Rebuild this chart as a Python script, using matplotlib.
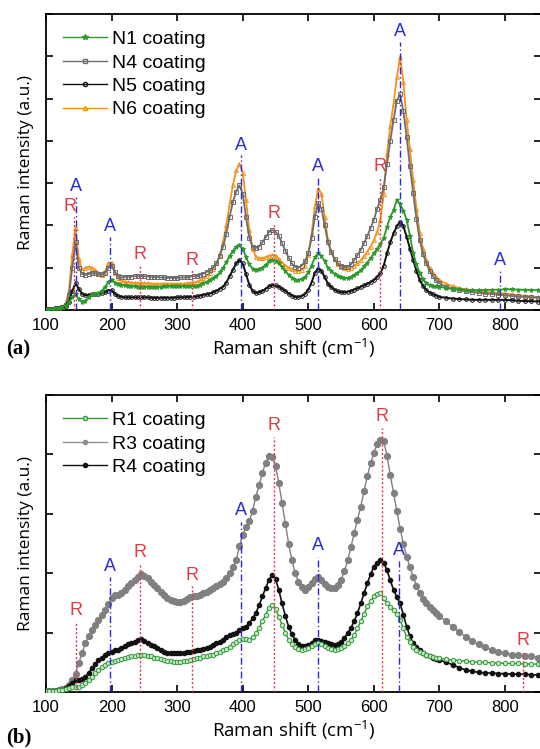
import matplotlib
matplotlib.use("Agg")
import matplotlib.pyplot as plt
from matplotlib.lines import Line2D

# ---------------- shared x grid (Raman shift, cm^-1) ----------------
xgrid = list(range(100, 705, 5)) + list(range(710, 860, 10)) + [855]

# ---------------- data (panel a) ----------------
n1 = [.02, .02, .03, .04, .05, .07, .10, .18, .30, .38, .25, .20, .22, .30, .37, .39, .40, .45, .55, .66,
      .72, .65, .61, .59, .58, .57, .56, .56, .55, .55, .55, .55, .55, .55, .55, .55, .56, .56, .56, .56,
      .56, .56, .56, .56, .57, .57, .57, .60, .63, .66, .70, .75, .80, .89, 1.00, 1.13, 1.28, 1.40, 1.50, 1.54,
      1.45, 1.25, 1.08, .98, .94, .96, 1.00, 1.07, 1.15, 1.18, 1.16, 1.10, 1.02, .92, .83, .76, .72, .71, .73, .78,
      .90, 1.05, 1.25, 1.34, 1.28, 1.15, 1.00, .92, .85, .81, .78, .76, .75, .78, .82, .88, .94, 1.03, 1.12, 1.23,
      1.34, 1.45, 1.57, 1.70, 1.97, 2.20, 2.36, 2.60, 2.50, 2.35, 2.13, 1.75, 1.34, 1.08, .87, .73, .63, .59, .57, .56,
      .55, .52, .50, .49, .48, .47, .47, .47, .48, .48, .49, .49, .48, .48, .47, .47, .47]
n4 = [.02, .02, .03, .04, .05, .07, .12, .35, 1.00, 1.60, 1.00, .85, .83, .85, .87, .87, .85, .84, .88, 1.00,
      1.05, .90, .80, .77, .78, .79, .79, .80, .80, .80, .80, .79, .79, .78, .78, .77, .77, .76, .76, .76,
      .76, .77, .77, .78, .79, .80, .80, .83, .86, .90, .94, 1.01, 1.10, 1.28, 1.50, 1.80, 2.20, 2.55, 2.80, 2.95,
      2.75, 2.20, 1.70, 1.50, 1.47, 1.50, 1.60, 1.72, 1.85, 1.89, 1.85, 1.75, 1.58, 1.40, 1.24, 1.10, 1.02, 1.00, 1.05, 1.15,
      1.35, 1.70, 2.20, 2.52, 2.40, 2.00, 1.60, 1.38, 1.20, 1.10, 1.05, 1.02, 1.02, 1.08, 1.18, 1.30, 1.42, 1.58, 1.75, 1.94,
      2.13, 2.40, 2.60, 2.90, 3.46, 4.00, 4.49, 4.95, 5.10, 4.70, 4.09, 3.40, 2.76, 2.15, 1.65, 1.32, 1.10, .93, .80, .70,
      .63, .55, .50, .47, .44, .42, .41, .39, .38, .36, .35, .33, .32, .31, .30, .29, .28]
n5 = [.02, .02, .03, .04, .05, .07, .10, .20, .45, .63, .50, .38, .35, .36, .37, .38, .39, .40, .42, .46,
      .47, .38, .33, .31, .30, .30, .30, .30, .30, .30, .30, .30, .29, .29, .29, .29, .29, .29, .29, .29,
      .30, .30, .30, .31, .31, .31, .32, .34, .36, .37, .39, .42, .45, .50, .55, .65, .80, .95, 1.10, 1.18,
      1.10, .85, .60, .45, .40, .42, .45, .50, .56, .59, .58, .55, .50, .45, .39, .34, .31, .31, .33, .38,
      .48, .65, .88, .98, .92, .78, .62, .54, .48, .44, .42, .42, .43, .45, .48, .51, .55, .58, .62, .66,
      .71, .78, .87, 1.05, 1.34, 1.60, 1.81, 1.98, 2.09, 1.98, 1.73, 1.45, 1.18, .92, .71, .57, .47, .41, .37, .34,
      .31, .29, .27, .26, .25, .24, .24, .24, .24, .24, .24, .23, .22, .21, .21, .20, .20]
n6 = [.02, .02, .03, .04, .05, .08, .15, .45, 1.30, 1.95, 1.20, .95, 1.00, 1.02, 1.00, .95, .88, .83, .90, 1.10,
      1.12, .88, .75, .70, .67, .66, .65, .64, .64, .63, .63, .63, .62, .62, .62, .62, .62, .62, .62, .62,
      .62, .62, .62, .63, .64, .65, .66, .70, .75, .81, .88, .98, 1.10, 1.30, 1.60, 2.00, 2.50, 2.95, 3.30, 3.46,
      3.25, 2.60, 1.90, 1.45, 1.26, 1.22, 1.22, 1.25, 1.28, 1.30, 1.28, 1.20, 1.12, 1.05, 1.00, .96, .93, .92, .95, 1.05,
      1.30, 1.80, 2.45, 2.87, 2.75, 2.20, 1.65, 1.38, 1.20, 1.08, 1.02, .99, .98, 1.00, 1.05, 1.10, 1.18, 1.27, 1.38, 1.50,
      1.65, 1.85, 2.13, 2.75, 3.70, 4.35, 4.88, 5.50, 5.98, 5.40, 4.49, 3.80, 3.07, 2.40, 1.81, 1.45, 1.18, 1.00, .88, .78,
      .71, .62, .56, .52, .49, .47, .45, .43, .42, .40, .39, .37, .35, .34, .32, .31, .31]
labels_a = ["N1 coating", "N4 coating", "N5 coating", "N6 coating"]

# annotation lines (panel a): position and height of the line top
a_lines_a = [145, 198, 397, 515, 640, 793]
a_tops_a = [2.68, 1.73, 3.66, 3.15, 6.34, 0.94]
r_lines_a = [142, 243, 323, 448, 609]
r_tops_a = [2.20, 1.06, 0.94, 2.05, 3.15]

# ---------------- data (panel b) ----------------
r1 = [.01, .01, .02, .02, .03, .04, .05, .06, .08, .09, .09, .11, .15, .20, .26, .32, .37, .42, .46, .49,
      .51, .53, .54, .56, .57, .59, .60, .61, .62, .62, .62, .61, .60, .58, .57, .55, .54, .53, .52, .51,
      .51, .51, .52, .53, .54, .55, .57, .58, .60, .61, .62, .63, .65, .67, .70, .73, .76, .80, .84, .88,
      .90, .89, .88, .92, .99, 1.08, 1.19, 1.30, 1.41, 1.47, 1.40, 1.27, 1.13, 1.00, .88, .81, .76, .73, .71, .72,
      .74, .77, .80, .82, .80, .77, .74, .72, .71, .72, .74, .78, .82, .88, .96, 1.07, 1.19, 1.31, 1.44, 1.53,
      1.61, 1.65, 1.66, 1.58, 1.49, 1.43, 1.38, 1.32, 1.21, 1.07, .93, .84, .76, .71, .68, .65, .62, .60, .59, .58,
      .57, .55, .54, .53, .52, .51, .50, .50, .49, .49, .48, .48, .48, .47, .47, .47, .47]
r3 = [.01, .01, .02, .02, .03, .05, .07, .12, .20, .31, .48, .66, .82, .94, 1.04, 1.13, 1.21, 1.30, 1.38, 1.48,
      1.58, 1.63, 1.64, 1.66, 1.72, 1.78, 1.83, 1.89, 1.94, 1.98, 1.96, 1.92, 1.86, 1.80, 1.75, 1.69, 1.63, 1.58, 1.55, 1.53,
      1.52, 1.51, 1.54, 1.57, 1.60, 1.61, 1.62, 1.64, 1.66, 1.69, 1.72, 1.75, 1.78, 1.82, 1.86, 1.92, 2.00, 2.10, 2.22, 2.45,
      2.65, 2.78, 2.88, 3.05, 3.29, 3.48, 3.69, 3.86, 3.98, 3.96, 3.80, 3.52, 3.18, 2.83, 2.50, 2.22, 2.00, 1.86, 1.77, 1.72,
      1.76, 1.84, 1.90, 1.94, 1.88, 1.81, 1.77, 1.75, 1.75, 1.80, 1.89, 2.03, 2.22, 2.44, 2.67, 2.90, 3.12, 3.38, 3.63, 3.85,
      4.02, 4.17, 4.25, 4.22, 3.98, 3.65, 3.35, 3.05, 2.75, 2.50, 2.28, 2.10, 1.94, 1.79, 1.66, 1.57, 1.49, 1.43, 1.38, 1.33,
      1.28, 1.19, 1.10, 1.01, .93, .86, .80, .75, .71, .68, .65, .63, .62, .61, .60, .58, .57]
r4 = [.01, .01, .02, .02, .03, .04, .06, .10, .15, .20, .20, .22, .26, .32, .40, .47, .54, .58, .62, .65,
      .68, .70, .71, .74, .78, .80, .82, .85, .88, .89, .86, .83, .79, .77, .74, .71, .68, .66, .65, .65,
      .65, .66, .66, .67, .68, .69, .70, .71, .72, .74, .76, .79, .82, .85, .88, .92, .96, .98, .99, 1.05,
      1.07, 1.10, 1.16, 1.24, 1.33, 1.46, 1.61, 1.75, 1.89, 1.97, 1.90, 1.72, 1.49, 1.28, 1.10, .97, .88, .81, .77, .77,
      .79, .83, .87, .88, .86, .84, .82, .80, .79, .81, .85, .91, .99, 1.08, 1.19, 1.33, 1.49, 1.66, 1.83, 1.98,
      2.11, 2.18, 2.22, 2.18, 2.05, 1.88, 1.72, 1.60, 1.49, 1.30, 1.10, .94, .82, .76, .71, .66, .62, .60, .58, .56,
      .54, .50, .46, .41, .37, .35, .33, .32, .32, .31, .31, .30, .30, .30, .29, .29, .29]
labels_b = ["R1 coating", "R3 coating", "R4 coating"]

a_lines_b = [198, 398, 515, 638]
a_tops_b = [1.93, 2.87, 2.28, 2.20]
r_lines_b = [146, 243, 322, 447, 612, 828]
r_tops_b = [1.19, 2.17, 1.78, 4.30, 4.45, 0.68]

# ---------------- styling ----------------
W, H = 540, 749
fig = plt.figure(figsize=(W / 100, H / 100), dpi=100)
fig.patch.set_facecolor("white")

TICKFONT = "Liberation Sans"
LABFONT = "Open Sans"
BLUE = "#2b2bd8"
RED = "#e03a45"


def frame(ax, ymax):
    ax.set_xlim(100, 855)
    ax.set_ylim(0, ymax)
    ax.set_xticks(range(100, 900, 100))
    ax.set_yticks(range(0, ymax + 1))
    ax.set_yticklabels([])
    ax.tick_params(direction="in", top=True, right=True, length=5, width=1.2,
                   labelsize=12, pad=6)
    for lab in ax.get_xticklabels():
        lab.set_fontfamily(TICKFONT)
    for sp in ax.spines.values():
        sp.set_linewidth(1.3)
    ax.set_xlabel("Raman shift (cm$^{\\mathregular{-1}}$)", fontfamily=LABFONT, fontsize=13.5, labelpad=2)
    ax.set_ylabel("Raman intensity (a.u.)", fontfamily=LABFONT, fontsize=12.5, labelpad=3)


def annotate(ax, xs, tops, color, ls, letter, shift=None):
    for i, (x, t) in enumerate(zip(xs, tops)):
        ax.plot([x, x], [0, t], color=color, ls=ls, lw=1.0, zorder=6)
        tx = x + (shift.get(i, 0) if shift else 0)
        ax.text(tx, t + 0.04, letter, color=color, ha="center", va="bottom",
                fontsize=13, fontfamily=TICKFONT, zorder=7)


def legend(ax, handles, labels):
    ax.legend(handles, labels, loc="upper left", bbox_to_anchor=(0.0, 1.0), frameon=False,
              prop={"family": TICKFONT, "size": 14}, handlelength=2.3, handletextpad=0.25,
              labelspacing=0.3, borderaxespad=0.55, borderpad=0.3, numpoints=1)


# ---------------- panel (a) ----------------
axA = fig.add_axes([46 / W, 1 - 310 / H, 1 - 46 / W + 0.002, (310 - 14) / H])
frame(axA, 7)
st_a = [
    (n6, dict(color="#f5921e", marker="^", ms=2.8, mfc="none", mew=0.7, lw=1.3)),
    (n4, dict(color="#6d6d6d", marker="s", ms=2.6, mfc="none", mew=0.7, lw=1.3)),
    (n5, dict(color="#111111", marker="o", ms=2.6, mfc="none", mew=0.7, lw=1.4)),
    (n1, dict(color="#2a9a2a", marker="*", ms=3.6, mew=0.6, lw=1.3)),
]
for ys, kw in st_a:
    axA.plot(xgrid, ys, zorder=3, **kw)
annotate(axA, a_lines_a, a_tops_a, BLUE, (0, (5, 2, 1, 2)), "A")
annotate(axA, r_lines_a, r_tops_a, RED, (0, (1.5, 1.5)), "R", shift={0: -6})

hA = [
    Line2D([], [], color="#2a9a2a", marker="*", ms=4, lw=1.0),
    Line2D([], [], color="#6d6d6d", marker="s", ms=3, mfc="none", lw=1.0),
    Line2D([], [], color="#111111", marker="o", ms=3, mfc="none", lw=1.0),
    Line2D([], [], color="#f5921e", marker="^", ms=3, mfc="none", lw=1.0),
]
legend(axA, hA, labels_a)
fig.text(6 / W, 1 - 349 / H, "(a)", fontfamily="Liberation Serif", fontweight="bold",
         fontsize=15, va="center", ha="left")

# ---------------- panel (b) ----------------
axB = fig.add_axes([46 / W, 1 - 692 / H, 1 - 46 / W + 0.002, (692 - 395) / H])
frame(axB, 5)
st_b = [
    (r3, dict(color="#808080", marker="o", ms=4.2, lw=1.0)),
    (r4, dict(color="#111111", marker="o", ms=3.0, lw=1.2)),
    (r1, dict(color="#2f9a38", marker="o", ms=3.2, mfc="#c9e6c9", mew=0.7, lw=1.0)),
]
for ys, kw in st_b:
    axB.plot(xgrid, ys, zorder=3, **kw)
annotate(axB, a_lines_b, a_tops_b, BLUE, (0, (5, 2, 1, 2)), "A")
annotate(axB, r_lines_b, r_tops_b, RED, (0, (1.5, 1.5)), "R")

hB = [
    Line2D([], [], color="#2f9a38", marker="o", ms=3, mfc="#c9e6c9", lw=1.0),
    Line2D([], [], color="#8f8f8f", marker="o", ms=3, lw=1.0),
    Line2D([], [], color="#111111", marker="o", ms=3, lw=1.0),
]
legend(axB, hB, labels_b)
fig.text(6 / W, 1 - 737 / H, "(b)", fontfamily="Liberation Serif", fontweight="bold",
         fontsize=15, va="center", ha="left")

fig.savefig("out.png", dpi=100)
